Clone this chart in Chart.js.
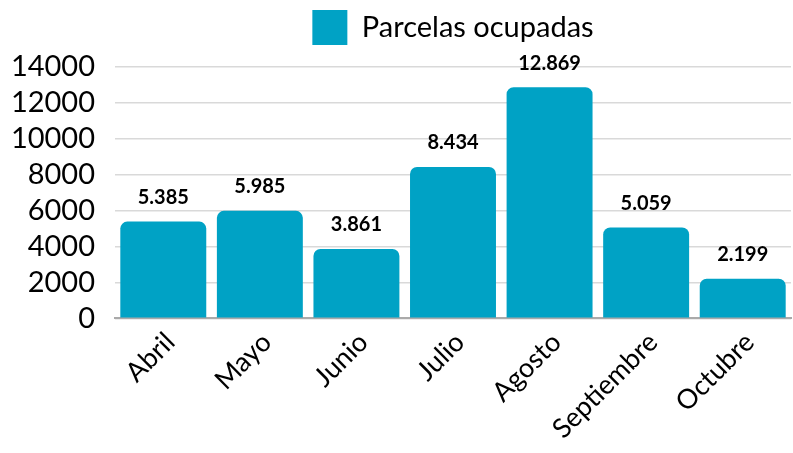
<!DOCTYPE html>
<html>
<head>
<meta charset="utf-8">
<script src="https://cdn.jsdelivr.net/npm/chart.js@4"></script>
<style>
html,body{margin:0;padding:0;background:#fff;}
#wrap{width:793px;height:453px;}
</style>
</head>
<body>
<div id="wrap"><canvas id="c"></canvas></div>
<script>
const categories = ["Abril","Mayo","Junio","Julio","Agosto","Septiembre","Octubre"];
const parcelas = [5385, 5985, 3861, 8434, 12869, 5059, 2199];
const seriesName = "Parcelas ocupadas";
const yTicks = [0, 2000, 4000, 6000, 8000, 10000, 12000, 14000];

const fmt = v => v.toLocaleString('de-DE');

const valueLabels = {
  id: 'valueLabels',
  afterDatasetsDraw(chart) {
    const ctx = chart.ctx;
    const meta = chart.getDatasetMeta(0);
    ctx.save();
    ctx.font = 'bold 20px Lato';
    ctx.fillStyle = '#000';
    ctx.textAlign = 'center';
    ctx.textBaseline = 'middle';
    meta.data.forEach((bar, i) => {
      ctx.fillText(fmt(chart.data.datasets[0].data[i]), bar.x, bar.y - 24);
    });
    ctx.restore();
  }
};

const legendMargin = {
  id: 'legendMargin',
  beforeInit(chart) {
    const fit = chart.legend.fit;
    chart.legend.fit = function () {
      fit.bind(chart.legend)();
      this.height += 12;
    };
  }
};

new Chart(document.getElementById('c'), {
  type: 'bar',
  data: {
    labels: categories,
    datasets: [{
      label: seriesName,
      data: parcelas,
      backgroundColor: '#00A2C5',
      borderRadius: {topLeft: 7, topRight: 7},
      borderSkipped: 'bottom',
      barPercentage: 0.89,
      categoryPercentage: 1.0
    }]
  },
  options: {
    responsive: true,
    maintainAspectRatio: false,
    animation: false,
    layout: {padding: {top: 0, right: 2, bottom: 0, left: 0}},
    plugins: {
      legend: {
        position: 'top',
        fullSize: false,
        labels: {
          boxWidth: 35, boxHeight: 35,
          font: {family: 'Lato', size: 29},
          color: '#000',
          padding: 10
        }
      },
      tooltip: {enabled: false}
    },
    scales: {
      x: {
        grid: {display: false, drawTicks: false},
        border: {color: '#aaaaaa', width: 2},
        ticks: {
          font: {family: 'Lato', size: 27},
          color: '#000',
          maxRotation: 45, minRotation: 45,
          autoSkip: false,
          labelOffset: 7,
          padding: 8
        }
      },
      y: {
        min: 0, max: 14000,
        afterBuildTicks(axis) { axis.ticks = yTicks.map(v => ({value: v})); },
        afterFit(axis) { axis.width = 115; },
        grid: {color: '#d9d9d9', lineWidth: 1.5, drawTicks: false},
        border: {display: false},
        ticks: {
          font: {family: 'Lato', size: 29},
          color: '#000',
          padding: 20,
          autoSkip: false,
          callback: v => String(v)
        }
      }
    }
  },
  plugins: [valueLabels, legendMargin]
});
</script>
</body>
</html>
